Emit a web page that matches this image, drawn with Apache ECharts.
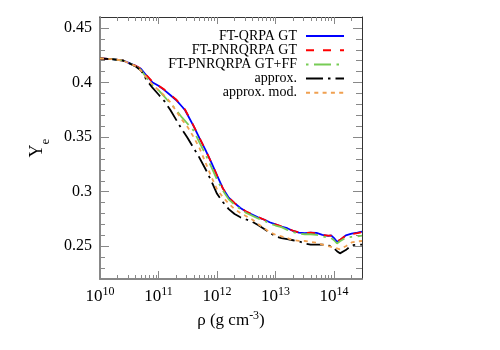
<!DOCTYPE html>
<html>
<head>
<meta charset="utf-8">
<script src="https://cdn.jsdelivr.net/npm/echarts@6/dist/echarts.min.js"></script>
<style>html,body{margin:0;padding:0;background:#fff}#c{width:500px;height:350px}</style>
</head>
<body>
<div id="c"></div>
<script>
// log10(rho) sample positions
const logRho = [10.0,10.2,10.4,10.6,10.7,10.8,10.9,11.0,11.1,11.2,11.3,11.4,11.45,11.5,11.6,11.7,11.8,11.9,12.0,12.1,12.2,12.3,12.4,12.5,12.6,12.7,12.8,12.9,13.0,13.1,13.2,13.3,13.4,13.5,13.6,13.7,13.8,13.9,13.95,14.0,14.05,14.1,14.2,14.3,14.4,14.477];
const qrpaGT = [0.422,0.4215,0.420,0.4155,0.4125,0.406,0.400,0.397,0.393,0.3885,0.384,0.378,0.375,0.370,0.360,0.349,0.3385,0.327,0.315,0.303,0.2945,0.2895,0.285,0.2815,0.279,0.2765,0.2745,0.272,0.270,0.268,0.2665,0.264,0.2625,0.262,0.2625,0.2622,0.2605,0.2595,0.2600,0.2575,0.2540,0.2555,0.2600,0.2615,0.2625,0.2635];
const pnrqrpaGT = [0.422,0.4215,0.420,0.4155,0.4125,0.4062,0.4005,0.3972,0.3935,0.389,0.3845,0.3785,0.3755,0.3705,0.3603,0.3492,0.3385,0.3268,0.3148,0.3028,0.2945,0.2895,0.2852,0.2817,0.2792,0.2767,0.2745,0.2722,0.2700,0.2682,0.2665,0.2642,0.2627,0.2621,0.2624,0.2618,0.2604,0.2597,0.2598,0.2574,0.2545,0.2558,0.2598,0.2612,0.2620,0.2630];
const pnrqrpaGTFF = [0.422,0.4215,0.420,0.4155,0.4115,0.404,0.3975,0.393,0.387,0.381,0.375,0.368,0.365,0.362,0.356,0.345,0.3345,0.323,0.311,0.301,0.293,0.288,0.284,0.2805,0.278,0.2755,0.2735,0.271,0.269,0.2675,0.265,0.263,0.2615,0.261,0.261,0.2605,0.259,0.258,0.2575,0.2555,0.2525,0.2545,0.258,0.2585,0.259,0.2598];
const approx = [0.422,0.4215,0.420,0.415,0.411,0.402,0.395,0.389,0.383,0.375,0.366,0.357,0.353,0.349,0.340,0.331,0.321,0.310,0.298,0.2905,0.284,0.2795,0.2765,0.2745,0.2725,0.2695,0.266,0.2625,0.259,0.2575,0.2565,0.2555,0.2545,0.2525,0.2515,0.2515,0.2515,0.251,0.2495,0.248,0.2455,0.2435,0.2465,0.251,0.2515,0.2515];
const approxMod = [0.422,0.4215,0.420,0.4152,0.411,0.404,0.398,0.393,0.388,0.382,0.374,0.366,0.3625,0.359,0.350,0.340,0.327,0.314,0.302,0.295,0.289,0.284,0.2805,0.2775,0.2745,0.2705,0.2665,0.263,0.2605,0.259,0.2575,0.2555,0.255,0.2548,0.254,0.2532,0.2515,0.2502,0.2495,0.2487,0.248,0.2472,0.250,0.2535,0.2545,0.2548];
const seriesNames = ['FT-QRPA GT','FT-PNRQRPA GT','FT-PNRQRPA GT+FF','approx.','approx. mod.'];
const xMajorTicks = [1e10,1e11,1e12,1e13,1e14];
const xMinorTicks = [2e10,3e10,4e10,5e10,6e10,7e10,8e10,9e10,2e11,3e11,4e11,5e11,6e11,7e11,8e11,9e11,2e12,3e12,4e12,5e12,6e12,7e12,8e12,9e12,2e13,3e13,4e13,5e13,6e13,7e13,8e13,9e13,2e14];
const yMajorTicks = [0.25,0.3,0.35,0.4,0.45];
const yMinorTicks = [0.23,0.24,0.26,0.27,0.28,0.29,0.31,0.32,0.33,0.34,0.36,0.37,0.38,0.39,0.41,0.42,0.43,0.44];

const FONT = '"Liberation Serif", "DejaVu Serif", serif';
const xMin = 1e10, xMax = 3e14, yMin = 0.22, yMax = 0.46;
const rho = logRho.map(v => Math.pow(10, v));
const pair = ys => rho.map((x, i) => [x, ys[i]]);

function xAxisDef(pos, ticks, len, line, labels) {
  return {
    type: 'log', logBase: 10, min: xMin, max: xMax, position: pos,
    axisLine: line ? { show: true, onZero: false, lineStyle: line } : { show: false },
    axisTick: { show: true, inside: true, length: len, customValues: ticks, lineStyle: { color: '#888', width: 1 } },
    axisLabel: labels ? {
      show: true, customValues: ticks, margin: 7, fontFamily: FONT, color: '#000',
      formatter: v => '{b|10}{s|' + Math.round(Math.log10(v)) + '}',
      rich: { b: { fontSize: 17, fontFamily: FONT, color: '#000', verticalAlign: 'bottom' },
              s: { fontSize: 12, fontFamily: FONT, color: '#000', verticalAlign: 'bottom', padding: [0, 0, 7, 0] } }
    } : { show: false },
    splitLine: { show: false }, minorTick: { show: false }
  };
}
function yAxisDef(pos, ticks, len, line, labels) {
  return {
    type: 'value', min: yMin, max: yMax, position: pos,
    axisLine: line ? { show: true, onZero: false, lineStyle: line } : { show: false },
    axisTick: { show: true, inside: true, length: len, customValues: ticks, lineStyle: { color: '#888', width: 1 } },
    axisLabel: labels ? { show: true, customValues: ticks, margin: 8, fontSize: 16, fontFamily: FONT, color: '#000' } : { show: false },
    splitLine: { show: false }
  };
}

const xAxes = [
  xAxisDef('bottom', xMajorTicks, 8, { color: '#888', width: 2 }, true),
  xAxisDef('bottom', xMinorTicks, 4, null, false),
  xAxisDef('top', xMajorTicks, 7, { color: '#333', width: 1 }, false),
  xAxisDef('top', xMinorTicks, 4, null, false)
];
Object.assign(xAxes[0], {
  name: 'ρ (g cm{s|-3})', nameLocation: 'middle', nameGap: 25,
  nameTextStyle: { fontSize: 17, fontFamily: FONT, color: '#000', verticalAlign: 'top',
    rich: { s: { fontSize: 12, fontFamily: FONT, color: '#000', verticalAlign: 'bottom', padding: [0, 0, 10, 0] } } }
});
const yAxes = [
  yAxisDef('left', yMajorTicks, 9, { color: '#888', width: 2 }, true),
  yAxisDef('left', yMinorTicks, 5, null, false),
  yAxisDef('right', yMajorTicks, 9, { color: '#333', width: 1 }, false),
  yAxisDef('right', yMinorTicks, 6, null, false)
];
Object.assign(yAxes[0], {
  name: 'Y{e|e}', nameLocation: 'middle', nameGap: 54, nameRotate: 90,
  nameTextStyle: { fontSize: 18, fontFamily: FONT, color: '#000', verticalAlign: 'bottom',
    rich: { e: { fontSize: 13, fontFamily: FONT, color: '#000', verticalAlign: 'bottom', padding: [0, 0, -6, 0] } } }
});

const styles = [
  { color: '#0000ff', type: 'solid' },
  { color: '#ff0000', type: [8, 9] },
  { color: '#77cc55', type: [2.5, 5.5, 17, 5.5] },
  { color: '#000000', type: [17, 5, 2.5, 5] },
  { color: '#f0a050', type: [4, 4.3] }
];
const dataSets = [qrpaGT, pnrqrpaGT, pnrqrpaGTFF, approx, approxMod];
const series = seriesNames.map((n, i) => ({
  name: n, type: 'line', xAxisIndex: 0, yAxisIndex: 0, data: pair(dataSets[i]),
  showSymbol: false, symbol: 'none', smooth: false, animation: false,
  lineStyle: { color: styles[i].color, width: 1.8, type: styles[i].type },
  itemStyle: { color: styles[i].color }
}));

const chart = echarts.init(document.getElementById('c'), null, { renderer: 'canvas' });
chart.setOption({
  backgroundColor: '#fff',
  animation: false,
  grid: { left: 100, right: 138, top: 17, bottom: 71, containLabel: false },
  legend: {
    data: seriesNames, orient: 'vertical', right: 150, top: 24, align: 'right',
    itemWidth: 38, itemHeight: 10, itemGap: 0.2,
    itemStyle: { opacity: 0, borderWidth: 0 },
    textStyle: { fontSize: 14, fontFamily: FONT, color: '#000', lineHeight: 14, padding: [0, 4, 0, 0] }
  },
  xAxis: xAxes,
  yAxis: yAxes,
  series: series
});
</script>
</body>
</html>
